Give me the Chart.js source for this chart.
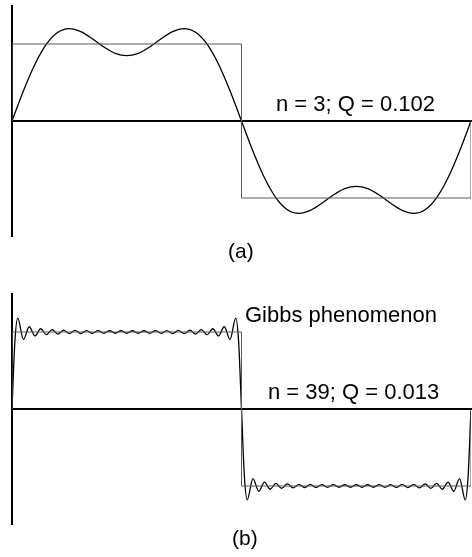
<!DOCTYPE html>
<html>
<head>
<meta charset="utf-8">
<script src="https://cdn.jsdelivr.net/npm/chart.js@4.4.1/dist/chart.umd.min.js"></script>
<style>
  html, body { margin: 0; padding: 0; background: #fff; }
  #wrap { position: relative; width: 472px; height: 557px; }
  canvas { position: absolute; left: 0; }
  #chartA { top: 0; }
  #chartB { top: 280px; }
</style>
</head>
<body>
<div id="wrap">
  <canvas id="chartA" width="472" height="280"></canvas>
  <canvas id="chartB" width="472" height="277"></canvas>
</div>
<script>
// Square wave (one period, angle in degrees)
const squareX = [0, 0, 180, 180, 360, 360];
const squareY = [0, 1, 1, -1, -1, 0];

// (a) partial sum, n = 3
const anglesA = [0, 9, 18, 27, 36, 45, 54, 63, 72, 81, 90, 99, 108, 117, 126, 135, 144, 153, 162, 171,
                 180, 189, 198, 207, 216, 225, 234, 243, 252, 261, 270, 279, 288, 297, 306, 315, 324, 333, 342, 351, 360];
const curveA = [0, 0.392, 0.737, 0.997, 1.152, 1.200, 1.161, 1.068, 0.962, 0.879, 0.849, 0.879, 0.962, 1.068, 1.161, 1.200, 1.152, 0.997, 0.737, 0.392,
                0, -0.392, -0.737, -0.997, -1.152, -1.200, -1.161, -1.068, -0.962, -0.879, -0.849, -0.879, -0.962, -1.068, -1.161, -1.200, -1.152, -0.997, -0.737, -0.392, 0];

// (b) partial sum, n = 39 (read at the ripple peaks and troughs)
const anglesB = [0, 2.25, 4.5, 9, 13.5, 18, 22.5, 27, 31.5, 36, 40.5, 45, 49.5, 54, 58.5, 63, 67.5, 72, 76.5, 81, 85.5,
                 90, 94.5, 99, 103.5, 108, 112.5, 117, 121.5, 126, 130.5, 135, 139.5, 144, 148.5, 153, 157.5, 162, 166.5, 171, 175.5, 177.75,
                 180, 182.25, 184.5, 189, 193.5, 198, 202.5, 207, 211.5, 216, 220.5, 225, 229.5, 234, 238.5, 243, 247.5, 252, 256.5, 261, 265.5,
                 270, 274.5, 279, 283.5, 288, 292.5, 297, 301.5, 306, 310.5, 315, 319.5, 324, 328.5, 333, 337.5, 342, 346.5, 351, 355.5, 357.75, 360];
const curveB = [0, 0.873, 1.179, 0.903, 1.068, 0.949, 1.042, 0.965, 1.030, 0.973, 1.025, 0.978, 1.021, 0.980, 1.019, 0.982, 1.017, 0.983, 1.016, 0.984, 1.016,
                0.984, 1.016, 0.984, 1.016, 0.983, 1.017, 0.982, 1.019, 0.980, 1.021, 0.978, 1.025, 0.973, 1.030, 0.965, 1.042, 0.949, 1.068, 0.903, 1.179, 0.873,
                0, -0.873, -1.179, -0.903, -1.068, -0.949, -1.042, -0.965, -1.030, -0.973, -1.025, -0.978, -1.021, -0.980, -1.019, -0.982, -1.017, -0.983, -1.016, -0.984, -1.016,
                -0.984, -1.016, -0.984, -1.016, -0.983, -1.017, -0.982, -1.019, -0.980, -1.021, -0.978, -1.025, -0.973, -1.030, -0.965, -1.042, -0.949, -1.068, -0.903, -1.179, -0.873, 0];

const FONT = '"Liberation Sans", Arial, Helvetica, sans-serif';

function toPoints(xs, ys) {
    return xs.map(function(x, i) { return { x: x, y: ys[i] }; });
}

// draws the caption texts onto the canvas
const figureLabels = {
    id: 'figureLabels',
    afterDraw: function(chart, args, opts) {
        const ctx = chart.ctx;
        ctx.save();
        ctx.fillStyle = '#000';
        ctx.textBaseline = 'alphabetic';
        opts.items.forEach(function(it) {
            ctx.font = it.size + 'px ' + FONT;
            ctx.fillText(it.text, it.x, it.y);
        });
        ctx.restore();
    }
};

function makeChart(id, xs, ys, padding, labels) {
    return new Chart(document.getElementById(id).getContext('2d'), {
        type: 'line',
        data: {
            datasets: [{
                data: toPoints(squareX, squareY),
                borderColor: '#5a5a5a',
                borderWidth: 1,
                pointRadius: 0,
                tension: 0
            }, {
                data: toPoints(xs, ys),
                borderColor: '#000000',
                borderWidth: 1.3,
                pointRadius: 0,
                cubicInterpolationMode: 'monotone'
            }]
        },
        options: {
            responsive: false,
            animation: false,
            events: [],
            layout: { padding: padding },
            plugins: {
                legend: { display: false },
                tooltip: { enabled: false },
                figureLabels: { items: labels }
            },
            scales: {
                x: {
                    type: 'linear',
                    min: 0,
                    max: 360,
                    position: { y: 0 },
                    ticks: { display: false },
                    grid: { display: false, drawTicks: false },
                    border: { display: true, color: '#000', width: 2 }
                },
                y: {
                    min: -1.5,
                    max: 1.5,
                    position: 'left',
                    ticks: { display: false },
                    grid: { display: false, drawTicks: false },
                    border: { display: true, color: '#000', width: 2 },
                    afterFit: function(scale) { scale.width = 12; }
                }
            }
        },
        plugins: [figureLabels]
    });
}

makeChart('chartA', anglesA, curveA, { top: 5.5, bottom: 43.5, left: 0, right: 1 }, [
    { text: 'n = 3; Q = 0.102', x: 276, y: 111, size: 22 },
    { text: '(a)', x: 228, y: 258, size: 21 }
]);

makeChart('chartB', anglesB, curveB, { top: 13.5, bottom: 32.5, left: 0, right: 1 }, [
    { text: 'Gibbs phenomenon', x: 245, y: 42, size: 22 },
    { text: 'n = 39; Q = 0.013', x: 268, y: 119, size: 22 },
    { text: '(b)', x: 232, y: 265, size: 21 }
]);
</script>
</body>
</html>
